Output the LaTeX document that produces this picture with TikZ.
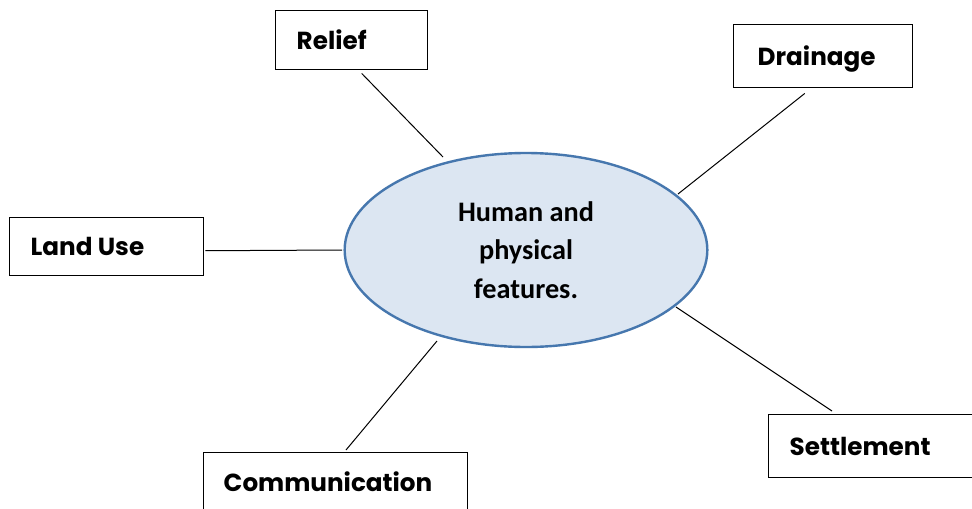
\documentclass[tikz,border=0pt]{standalone}
\usepackage{fontspec}
\usetikzlibrary{calc,shapes.geometric}
\newfontfamily\boxfont{Poppins}[BoldFont={Poppins Bold}]
\newfontfamily\hubfont{Carlito}
\definecolor{hubfill}{HTML}{DCE6F2}
\definecolor{hubline}{HTML}{4677AE}
\begin{document}
\begin{tikzpicture}[x=0.75pt,y=-0.75pt,
  topic/.style={draw, line width=1.1pt, anchor=north west, inner ysep=0pt,
    text height=13.5pt, text depth=0pt, font=\boxfont\bfseries\fontsize{18.5}{21}\selectfont},
  hub/.style={ellipse, draw=hubline, fill=hubfill, line width=1.8pt, inner sep=0pt,
    minimum width=272pt, minimum height=145.5pt, align=center,
    font=\hubfont\bfseries\fontsize{21.2}{28.7}\selectfont},
  link/.style={line width=0.75pt}]
\clip (0,0) rectangle (972,508);
\useasboundingbox (0,0) rectangle (972,508);
\fill[white] (0,0) rectangle (972,508);

\node[hub] (hub) at (526,250) {Human and\\physical\\features.};

\node[topic, inner xsep=15.75pt, minimum height=44.25pt] (relief) at (275,10)
  {\makebox[82.5pt][l]{Relief}};
\node[topic, inner xsep=18pt, minimum height=47.25pt] (drain) at (733,24)
  {\makebox[98.25pt][l]{Drainage}};
\node[topic, inner xsep=15.75pt, minimum height=43.5pt] (land) at (9,217)
  {\makebox[114pt][l]{Land Use}};
\node[topic, inner xsep=15pt, minimum height=70pt, text depth=25pt] (comm) at (203,452)
  {\makebox[168pt][l]{Communication}};
\node[topic, inner xsep=15.75pt, minimum height=47.25pt] (settle) at (768,414)
  {\makebox[160pt][l]{Settlement}};

\draw[link] ($(relief.south)+(10,3)$) -- ($(hub.center)+(-83,-93)$);
\draw[link] ($(drain.south)+(-18.5,5)$) -- ($(hub.center)+(152,-56)$);
\draw[link] ($(land.east)+(1,4)$) -- ($(hub.center)+(-184,0)$);
\draw[link] ($(settle.north west)+(64,-3)$) -- ($(hub.center)+(150,57)$);
\draw[link] ($(comm.north west)+(143,-2)$) -- ($(hub.center)+(-89,91)$);
\end{tikzpicture}
\end{document}
